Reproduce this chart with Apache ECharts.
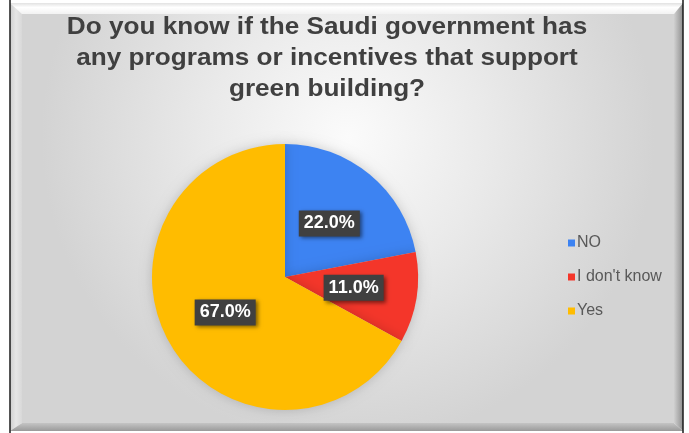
<!DOCTYPE html>
<html>
<head>
<meta charset="utf-8">
<script src="https://cdn.jsdelivr.net/npm/echarts@6/dist/echarts.min.js"></script>
<style>
  html, body { margin: 0; padding: 0; background: #ffffff; }
  #chart { width: 689px; height: 433px; }
</style>
</head>
<body>
<div id="chart"></div>
<script>
// Survey answers and their shares (percent)
const categories = ['NO', "I don't know", 'Yes'];
const shares = [22.0, 11.0, 67.0];
const sliceColors = ['#3D83F2', '#F4362A', '#FFBC00'];
const titleText = 'Do you know if the Saudi government has\nany programs or incentives that support\ngreen building?';

const chart = echarts.init(document.getElementById('chart'), null, { renderer: 'canvas' });

// Bevelled panel behind the chart
const frame = { x0: 10, y0: 3, x1: 683, y1: 431, fx0: 22, fy0: 14, fx1: 674, fy1: 423 };
const lin = (x, y, x2, y2, stops) => ({ type: 'linear', x, y, x2, y2, colorStops: stops });

const panel = [
  {
    type: 'rect', z: -10, silent: true,
    shape: { x: frame.fx0, y: frame.fy0, width: frame.fx1 - frame.fx0, height: frame.fy1 - frame.fy0 },
    style: {
      fill: {
        type: 'radial', x: 0.5, y: 0.3, r: 0.75,
        colorStops: [
          { offset: 0, color: '#fbfbfb' },
          { offset: 0.45, color: '#eaeaea' },
          { offset: 1, color: '#d3d3d3' }
        ]
      }
    }
  },
  { // top bevel
    type: 'polygon', z: -9, silent: true,
    shape: { points: [[frame.x0, frame.y0], [frame.x1, frame.y0], [frame.fx1, frame.fy0], [frame.fx0, frame.fy0]] },
    style: { fill: lin(0, 0, 0, 1, [{ offset: 0, color: '#e2e2e2' }, { offset: 0.4, color: '#ffffff' }, { offset: 1, color: '#f2f2f2' }]) }
  },
  { // left bevel
    type: 'polygon', z: -9, silent: true,
    shape: { points: [[frame.x0, frame.y0], [frame.fx0, frame.fy0], [frame.fx0, frame.fy1], [frame.x0, frame.y1]] },
    style: { fill: lin(0, 0, 1, 0, [{ offset: 0, color: '#cfcfcf' }, { offset: 0.5, color: '#e6e6e6' }, { offset: 1, color: '#d8d8d8' }]) }
  },
  { // right bevel
    type: 'polygon', z: -9, silent: true,
    shape: { points: [[frame.x1, frame.y0], [frame.x1, frame.y1], [frame.fx1, frame.fy1], [frame.fx1, frame.fy0]] },
    style: { fill: lin(0, 0, 1, 0, [{ offset: 0, color: '#d0d0d0' }, { offset: 0.6, color: '#a9a9a9' }, { offset: 1, color: '#8e8e8e' }]) }
  },
  { // bottom bevel
    type: 'polygon', z: -9, silent: true,
    shape: { points: [[frame.x0, frame.y1], [frame.fx0, frame.fy1], [frame.fx1, frame.fy1], [frame.x1, frame.y1]] },
    style: { fill: lin(0, 0, 0, 1, [{ offset: 0, color: '#c4c4c4' }, { offset: 1, color: '#9a9a9a' }]) }
  },
  { // outer edge lines
    type: 'line', z: -8, silent: true,
    shape: { x1: frame.x0, y1: 0, x2: frame.x0, y2: 433 },
    style: { stroke: '#1a1a1a', lineWidth: 1.5 }
  },
  {
    type: 'line', z: -8, silent: true,
    shape: { x1: frame.x1, y1: 0, x2: frame.x1, y2: 433 },
    style: { stroke: '#1a1a1a', lineWidth: 1.5 }
  },
  { // chart title, slightly widened lettering
    type: 'text', z: 5, silent: true,
    x: 327, y: 12,
    scaleX: 1.09,
    style: {
      text: titleText,
      textAlign: 'center',
      textVerticalAlign: 'top',
      font: 'bold 24px "Liberation Sans", Arial, sans-serif',
      lineHeight: 31,
      fill: '#404040'
    }
  }
];

chart.setOption({
  backgroundColor: '#ffffff',
  animation: false,
  color: sliceColors,
  graphic: panel,
  legend: {
    orient: 'vertical',
    left: 563,
    top: 230,
    icon: 'rect',
    itemWidth: 7,
    itemHeight: 7,
    itemGap: 18,
    data: categories,
    textStyle: {
      fontFamily: 'Liberation Sans, Arial, sans-serif',
      fontSize: 16,
      color: '#595959',
      padding: [0, 0, 0, -3]
    }
  },
  series: [{
    type: 'pie',
    center: [285, 277],
    radius: ['0%', 133],
    startAngle: 90,
    clockwise: true,
    avoidLabelOverlap: false,
    itemStyle: {
      borderWidth: 0,
      shadowBlur: 12,
      shadowColor: 'rgba(0,0,0,0.18)'
    },
    label: {
      show: true,
      position: 'inside',
      formatter: p => p.value.toFixed(1) + '%',
      fontFamily: 'Liberation Sans, Arial, sans-serif',
      fontSize: 18,
      fontWeight: 'bold',
      color: '#ffffff',
      backgroundColor: '#404040',
      padding: [5, 5, 3, 5],
      shadowColor: 'rgba(0,0,0,0.5)',
      shadowBlur: 4,
      shadowOffsetX: 2,
      shadowOffsetY: 2
    },
    labelLine: { show: false },
    emphasis: { disabled: true },
    data: categories.map((name, i) => ({ name, value: shares[i] }))
  }]
});
</script>
</body>
</html>
